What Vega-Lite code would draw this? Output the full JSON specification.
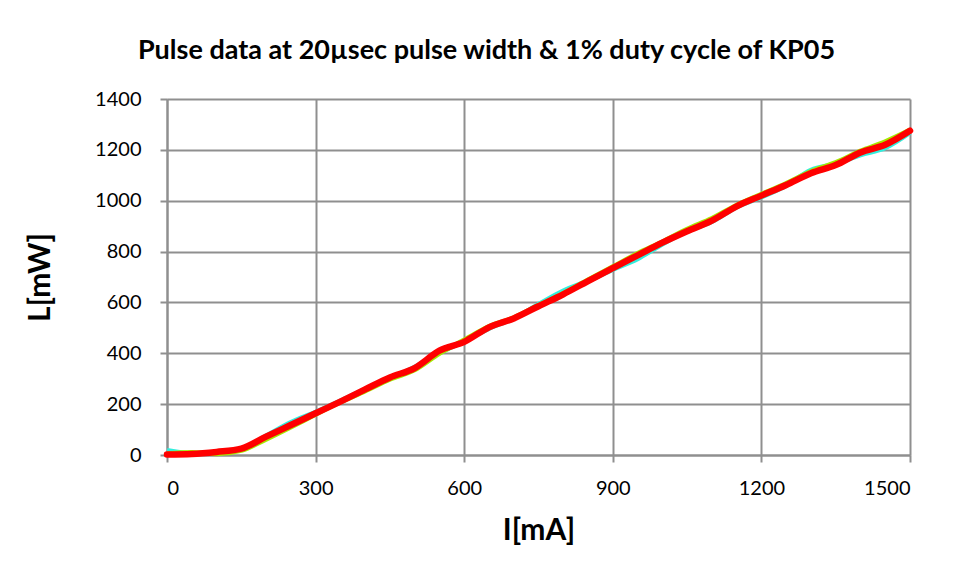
{
  "$schema": "https://vega.github.io/schema/vega-lite/v6.json",
  "width": 743,
  "height": 356,
  "padding": {"left": 25, "top": 37, "right": 46, "bottom": 20},
  "background": "white",
  "title": {
    "text": "Pulse data at 20µsec pulse width & 1% duty cycle of KP05",
    "font": "Lato",
    "fontSize": 27,
    "fontWeight": "bold",
    "color": "black",
    "anchor": "middle",
    "dx": -52,
    "offset": 24
  },
  "data": {
    "values": [
      {"s": "a", "I": 0, "L": 18}, {"s": "a", "I": 50, "L": 6}, {"s": "a", "I": 100, "L": 8}, {"s": "a", "I": 150, "L": 22}, {"s": "a", "I": 200, "L": 75}, {"s": "a", "I": 250, "L": 128}, {"s": "a", "I": 300, "L": 168}, {"s": "a", "I": 350, "L": 212}, {"s": "a", "I": 400, "L": 258}, {"s": "a", "I": 450, "L": 300}, {"s": "a", "I": 500, "L": 345}, {"s": "a", "I": 550, "L": 402}, {"s": "a", "I": 600, "L": 448}, {"s": "a", "I": 650, "L": 498}, {"s": "a", "I": 700, "L": 537}, {"s": "a", "I": 750, "L": 592}, {"s": "a", "I": 800, "L": 645}, {"s": "a", "I": 850, "L": 685}, {"s": "a", "I": 900, "L": 730}, {"s": "a", "I": 950, "L": 772}, {"s": "a", "I": 1000, "L": 830}, {"s": "a", "I": 1050, "L": 880}, {"s": "a", "I": 1100, "L": 918}, {"s": "a", "I": 1150, "L": 975}, {"s": "a", "I": 1200, "L": 1015}, {"s": "a", "I": 1250, "L": 1060}, {"s": "a", "I": 1300, "L": 1120}, {"s": "a", "I": 1350, "L": 1145}, {"s": "a", "I": 1400, "L": 1180}, {"s": "a", "I": 1450, "L": 1208}, {"s": "a", "I": 1500, "L": 1268},
      {"s": "b", "I": 0, "L": 5}, {"s": "b", "I": 50, "L": 10}, {"s": "b", "I": 100, "L": 5}, {"s": "b", "I": 150, "L": 18}, {"s": "b", "I": 200, "L": 62}, {"s": "b", "I": 250, "L": 110}, {"s": "b", "I": 300, "L": 160}, {"s": "b", "I": 350, "L": 208}, {"s": "b", "I": 400, "L": 252}, {"s": "b", "I": 450, "L": 298}, {"s": "b", "I": 500, "L": 335}, {"s": "b", "I": 550, "L": 400}, {"s": "b", "I": 600, "L": 452}, {"s": "b", "I": 650, "L": 505}, {"s": "b", "I": 700, "L": 540}, {"s": "b", "I": 750, "L": 588}, {"s": "b", "I": 800, "L": 635}, {"s": "b", "I": 850, "L": 688}, {"s": "b", "I": 900, "L": 740}, {"s": "b", "I": 950, "L": 792}, {"s": "b", "I": 1000, "L": 838}, {"s": "b", "I": 1050, "L": 888}, {"s": "b", "I": 1100, "L": 930}, {"s": "b", "I": 1150, "L": 982}, {"s": "b", "I": 1200, "L": 1025}, {"s": "b", "I": 1250, "L": 1068}, {"s": "b", "I": 1300, "L": 1115}, {"s": "b", "I": 1350, "L": 1150}, {"s": "b", "I": 1400, "L": 1195}, {"s": "b", "I": 1450, "L": 1232}, {"s": "b", "I": 1500, "L": 1278},
      {"s": "c", "I": 0, "L": 2}, {"s": "c", "I": 50, "L": 4}, {"s": "c", "I": 100, "L": 12}, {"s": "c", "I": 150, "L": 25}, {"s": "c", "I": 200, "L": 72}, {"s": "c", "I": 250, "L": 118}, {"s": "c", "I": 300, "L": 164}, {"s": "c", "I": 350, "L": 210}, {"s": "c", "I": 400, "L": 258}, {"s": "c", "I": 450, "L": 305}, {"s": "c", "I": 500, "L": 342}, {"s": "c", "I": 550, "L": 410}, {"s": "c", "I": 600, "L": 445}, {"s": "c", "I": 650, "L": 502}, {"s": "c", "I": 700, "L": 537}, {"s": "c", "I": 750, "L": 585}, {"s": "c", "I": 800, "L": 632}, {"s": "c", "I": 850, "L": 684}, {"s": "c", "I": 900, "L": 735}, {"s": "c", "I": 950, "L": 785}, {"s": "c", "I": 1000, "L": 835}, {"s": "c", "I": 1050, "L": 880}, {"s": "c", "I": 1100, "L": 922}, {"s": "c", "I": 1150, "L": 978}, {"s": "c", "I": 1200, "L": 1020}, {"s": "c", "I": 1250, "L": 1062}, {"s": "c", "I": 1300, "L": 1108}, {"s": "c", "I": 1350, "L": 1140}, {"s": "c", "I": 1400, "L": 1190}, {"s": "c", "I": 1450, "L": 1220}, {"s": "c", "I": 1500, "L": 1275}
    ]
  },
  "encoding": {
    "x": {
      "field": "I", "type": "quantitative",
      "scale": {"domain": [0, 1500], "nice": false, "zero": false},
      "axis": {"values": [0, 300, 600, 900, 1200, 1500], "format": "d", "title": "I[mA]", "titleFontSize": 30, "titleFont": "Lato", "titleFontWeight": "bold", "titlePadding": 17}
    },
    "y": {
      "field": "L", "type": "quantitative",
      "scale": {"domain": [0, 1400], "nice": false},
      "axis": {"values": [0, 200, 400, 600, 800, 1000, 1200, 1400], "format": "d", "title": "L[mW]", "titleFontSize": 30, "titleFont": "Lato", "titleFontWeight": "bold", "titlePadding": 39}
    }
  },
  "layer": [
    {"transform": [{"filter": "datum.s == 'a'"}], "mark": {"type": "line", "interpolate": "monotone", "color": "#33eedd", "strokeWidth": 5}},
    {"transform": [{"filter": "datum.s == 'b'"}], "mark": {"type": "line", "interpolate": "monotone", "color": "#a6e800", "strokeWidth": 5}},
    {"transform": [{"filter": "datum.s == 'c'"}], "mark": {"type": "line", "interpolate": "monotone", "color": "#ff0000", "strokeWidth": 6.5, "strokeCap": "round"}}
  ],
  "config": {
    "view": {"stroke": null},
    "axis": {
      "grid": true,
      "gridColor": "#8f8f8f",
      "gridWidth": 2,
      "gridOpacity": 1,
      "domainColor": "#8f8f8f",
      "domainWidth": 2,
      "tickColor": "#8f8f8f",
      "tickWidth": 2,
      "tickSize": 7,
      "labelFont": "Lato",
      "labelFontSize": 20,
      "labelColor": "black",
      "titleColor": "black"
    },
    "axisX": {"labelPadding": 16},
    "axisY": {"labelPadding": 19}
  }
}
